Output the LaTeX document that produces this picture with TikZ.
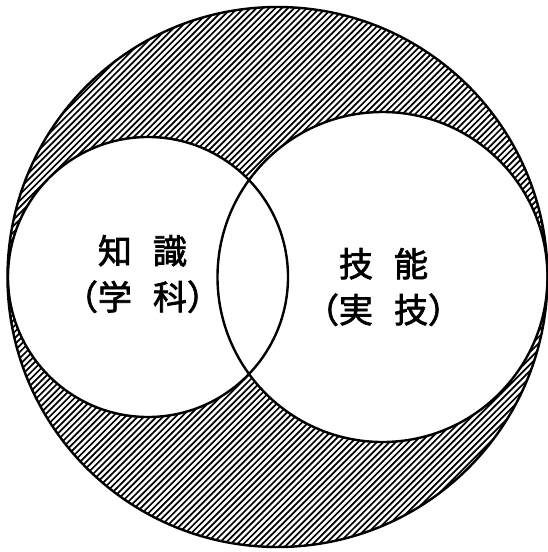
\documentclass[tikz,border=0pt]{standalone}
\usepackage{fontspec}
\newfontfamily\jpfont[FakeBold=2.2]{Noto Sans CJK JP}
\tikzset{
  outline/.style={draw=black, line width=2.4pt},
  hatch/.style={black, line width=1.7pt},
  label/.style={font=\jpfont\fontsize{34}{46}\selectfont, align=center, inner sep=0pt}
}
\begin{document}
\begin{tikzpicture}[x=1pt, y=-1pt]
\useasboundingbox (0,0) rectangle (548,552);
% hatching inside big circle
\begin{scope}
  \clip (277.5,277) circle[radius=270];
  \foreach \c in {0,6.3,...,1110} {
    \draw[hatch] (\c,0) -- ++(-560,560);
  }
\end{scope}
% white circles
\fill[white] (148,277) circle[radius=140];
\fill[white] (382.5,277) circle[radius=165];
% outlines
\node[outline, circle, minimum size=540pt, inner sep=0pt] (big) at (277.5,277) {};
\node[outline, circle, minimum size=280pt, inner sep=0pt] (know) at (148,277) {};
\node[outline, circle, minimum size=330pt, inner sep=0pt] (skill) at (382.5,277) {};
% labels
\node[label] (t1) at (142.5,274) {知\hspace{0.62em}識\\（学\hspace{0.62em}科）};
\node[label] (t2) at (383.5,287) {技\hspace{0.62em}能\\（実\hspace{0.62em}技）};
\end{tikzpicture}
\end{document}
